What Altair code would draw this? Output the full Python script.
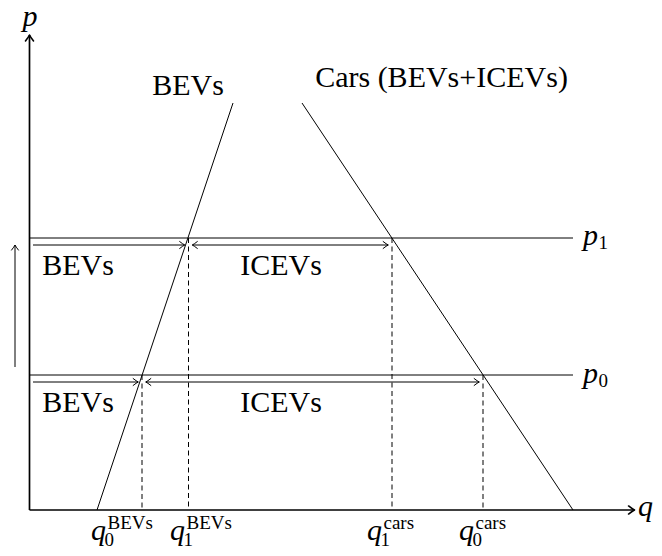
import altair as alt
import pandas as pd

# ---------------- data (diagram units) ----------------
p_names = ["p0", "p1"]
p_levels = [2.70, 5.44]            # price levels p0, p1
bev_supply_q = [1.35, 4.07]        # BEVs curve end points
bev_supply_p = [0.0, 8.14]
cars_demand_q = [5.45, 10.87]      # Cars (BEVs+ICEVs) curve end points
cars_demand_p = [8.14, 0.0]
q_bev = [2.25, 3.18]               # q0^BEVs, q1^BEVs
q_cars = [9.07, 7.25]              # q0^cars, q1^cars
q_axis_end = 12.10
p_axis_end = 9.50
price_line_end = 10.87
shift_arrow_p = [2.86, 5.30]       # vertical "price rise" arrow

curve_labels = ["BEVs", "Cars (BEVs+ICEVs)"]
segment_labels = ["BEVs", "ICEVs"]
tick_subs = ["0", "1", "1", "0"]
tick_sups = ["BEVs", "BEVs", "cars", "cars"]

# ---------------- scales (50 px per unit) ----------------
W, H = 646, 540
XMIN = -0.43
YMAX = 10.04
XS = alt.Scale(domain=[XMIN, XMIN + W / 50], nice=False, zero=False)
YS = alt.Scale(domain=[YMAX - H / 50, YMAX], nice=False, zero=False)


def X(f):
    return alt.X(f, type="quantitative", scale=XS, axis=None)


def Y(f):
    return alt.Y(f, type="quantitative", scale=YS, axis=None)


FONT = "Liberation Serif"
BIG = 30
SMALL = 19

# ---------------- segments ----------------
thin = []
thin.append(dict(x=bev_supply_q[0], y=bev_supply_p[0], x2=bev_supply_q[1], y2=bev_supply_p[1]))
thin.append(dict(x=cars_demand_q[0], y=cars_demand_p[0], x2=cars_demand_q[1], y2=cars_demand_p[1]))
for pl in p_levels:
    thin.append(dict(x=0, y=pl, x2=price_line_end, y2=pl))

gap = 0.075
arrow_off = 0.14
heads = []
for pl, qb, qc in [(p_levels[0], q_bev[0], q_cars[0]), (p_levels[1], q_bev[1], q_cars[1])]:
    ya = pl - arrow_off
    thin.append(dict(x=0.07, y=ya, x2=qb - gap, y2=ya))
    heads.append(dict(x=qb - gap, y=ya, ang=0))
    thin.append(dict(x=qb + gap, y=ya, x2=qc - gap, y2=ya))
    heads.append(dict(x=qb + gap, y=ya, ang=180))
    heads.append(dict(x=qc - gap, y=ya, ang=0))

thin.append(dict(x=-0.29, y=shift_arrow_p[0], x2=-0.29, y2=shift_arrow_p[1]))
heads.append(dict(x=-0.29, y=shift_arrow_p[1], ang=270))

thin_df = pd.DataFrame(thin)
heads_df = pd.DataFrame(heads)

dashed_df = pd.DataFrame([
    dict(x=q_bev[0], y=p_levels[0], x2=q_bev[0], y2=0),
    dict(x=q_bev[1], y=p_levels[1], x2=q_bev[1], y2=0),
    dict(x=q_cars[1], y=p_levels[1], x2=q_cars[1], y2=0),
    dict(x=q_cars[0], y=p_levels[0], x2=q_cars[0], y2=0),
])

axes_df = pd.DataFrame([
    dict(x=0, y=0, x2=q_axis_end, y2=0),
    dict(x=0, y=0, x2=0, y2=p_axis_end),
])
axis_heads_df = pd.DataFrame([
    dict(x=q_axis_end, y=0, ang=0),
    dict(x=0, y=p_axis_end, ang=270),
])

ARROW = "M-1.7,-1.15 Q-0.55,-0.25 0,0 Q-0.55,0.25 -1.7,1.15"


def seg_layer(df, width=1.0, dash=None):
    kw = dict(color="black", strokeWidth=width, strokeCap="butt")
    if dash:
        kw["strokeDash"] = dash
    return alt.Chart(df).mark_rule(**kw).encode(
        x=X("x"), y=Y("y"), x2=alt.X2("x2"), y2=alt.Y2("y2"))


def head_layer(df, size, width):
    return alt.Chart(df).mark_point(
        shape=ARROW, filled=False, stroke="black", strokeWidth=width,
        opacity=1, strokeCap="round", strokeJoin="round"
    ).encode(x=X("x"), y=Y("y"), angle=alt.Angle("ang:Q", scale=None),
             size=alt.value(size))


# ---------------- text ----------------
center_txt = pd.DataFrame([
    dict(x=3.17, y=8.30, t=curve_labels[0]),
    dict(x=8.24, y=8.46, t=curve_labels[1]),
    dict(x=0.97, y=p_levels[1] - 0.74, t=segment_labels[0]),
    dict(x=5.03, y=p_levels[1] - 0.74, t=segment_labels[1]),
    dict(x=0.97, y=p_levels[0] - 0.74, t=segment_labels[0]),
    dict(x=5.03, y=p_levels[0] - 0.74, t=segment_labels[1]),
])

tick_q_left = [q_bev[0] - 1.02, q_bev[1] - 0.37, q_cars[1] - 0.50, q_cars[0] - 0.48]

italic_txt = pd.DataFrame(
    [dict(x=-0.14, y=9.68, t="p"),
     dict(x=12.17, y=-0.12, t="q"),
     dict(x=11.07, y=p_levels[1] - 0.14, t="p"),
     dict(x=11.07, y=p_levels[0] - 0.16, t="p")]
    + [dict(x=v, y=-0.59, t="q") for v in tick_q_left]
)

script_txt = pd.DataFrame(
    [dict(x=11.38, y=p_levels[1] - 0.22, t="1"),
     dict(x=11.38, y=p_levels[0] - 0.24, t="0")]
    + [dict(x=v + 0.27, y=-0.72, t=s) for v, s in zip(tick_q_left, tick_subs)]
    + [dict(x=v + 0.33, y=-0.37, t=s) for v, s in zip(tick_q_left, tick_sups)]
)

center_layer = alt.Chart(center_txt).mark_text(
    font=FONT, fontSize=BIG, align="center", baseline="alphabetic", color="black"
).encode(x=X("x"), y=Y("y"), text="t:N")

italic_layer = alt.Chart(italic_txt).mark_text(
    font=FONT, fontSize=BIG, fontStyle="italic", align="left",
    baseline="alphabetic", color="black"
).encode(x=X("x"), y=Y("y"), text="t:N")

script_layer = alt.Chart(script_txt).mark_text(
    font=FONT, fontSize=SMALL, align="left", baseline="alphabetic", color="black"
).encode(x=X("x"), y=Y("y"), text="t:N")

chart = alt.layer(
    seg_layer(dashed_df, 1.0, [5, 3.5]),
    seg_layer(thin_df, 1.0),
    head_layer(heads_df, 36, 1.0),
    seg_layer(axes_df, 1.7),
    head_layer(axis_heads_df, 49, 1.6),
    center_layer,
    italic_layer,
    script_layer,
).properties(
    width=W, height=H,
    autosize=alt.AutoSizeParams(type="none"),
    padding=0,
    background="white",
).configure_view(stroke=None)

chart.save("out.html", embed_options={"renderer": "svg", "actions": False})
